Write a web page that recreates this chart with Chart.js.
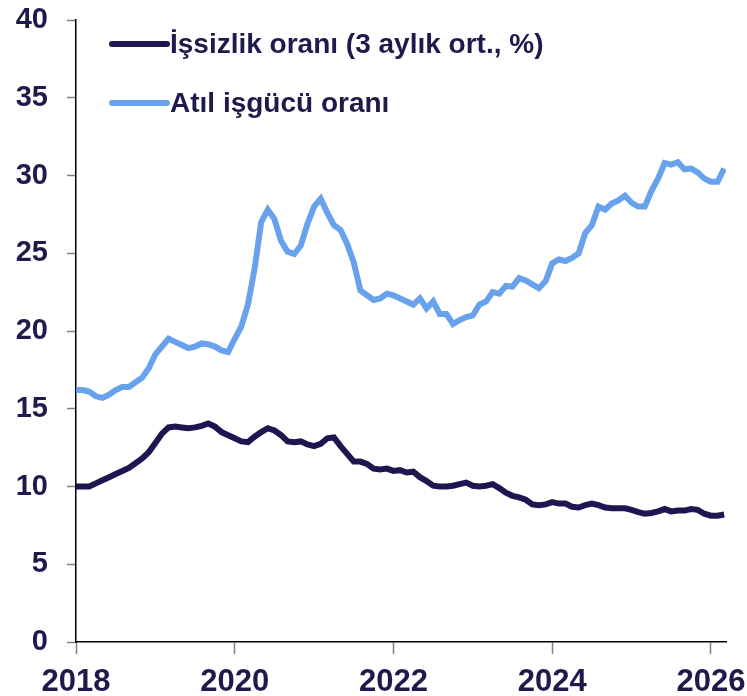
<!DOCTYPE html>
<html>
<head>
<meta charset="utf-8">
<title>İşsizlik ve atıl işgücü oranı</title>
<script src="https://cdn.jsdelivr.net/npm/chart.js@4/dist/chart.umd.min.js"></script>
<style>
    html, body { margin: 0; padding: 0; background: #fff; }
    #wrap { width: 747px; height: 696px; position: relative; }
</style>
</head>
<body>
<div id="wrap"><canvas id="main-chart"></canvas></div>
<script>
'use strict';

// monthly, Jan 2018 .. Mar 2026
var startYear = 2018;
var yearTicks = [2018, 2020, 2022, 2024, 2026];
var seriesNames = ['İşsizlik oranı (3 aylık ort., %)', 'Atıl işgücü oranı'];

var unemployment = [
    10.0, 10.0, 10.0, 10.2, 10.4, 10.6, 10.8, 11.0, 11.2, 11.5, 11.8, 12.2,
    12.8, 13.4, 13.8, 13.85, 13.8, 13.75, 13.8, 13.9, 14.05, 13.85, 13.5, 13.3,
    13.1, 12.9, 12.85, 13.2, 13.5, 13.75, 13.6, 13.3, 12.9, 12.85, 12.9, 12.7,
    12.6, 12.75, 13.1, 13.15, 12.6, 12.1, 11.6, 11.6, 11.45, 11.15, 11.1, 11.15,
    11.0, 11.05, 10.9, 10.95, 10.6, 10.35, 10.05, 10.0, 10.0, 10.05, 10.15, 10.25,
    10.05, 10.0, 10.05, 10.15, 9.9, 9.6, 9.4, 9.3, 9.15, 8.85, 8.8, 8.85,
    9.0, 8.9, 8.9, 8.7, 8.65, 8.8, 8.9, 8.8, 8.65, 8.6, 8.6, 8.6,
    8.5, 8.35, 8.25, 8.3, 8.4, 8.55, 8.4, 8.45, 8.45, 8.55, 8.5, 8.25,
    8.12, 8.12, 8.2
];

var underutilization = [
    16.2, 16.2, 16.1, 15.8, 15.7, 15.9, 16.2, 16.4, 16.4, 16.7, 17.0, 17.6,
    18.5, 19.0, 19.5, 19.3, 19.1, 18.9, 19.0, 19.2, 19.15, 19.0, 18.75, 18.65,
    19.5, 20.3, 21.7, 24.0, 27.0, 27.8, 27.2, 25.8, 25.1, 24.95, 25.5, 26.9,
    28.0, 28.5, 27.6, 26.8, 26.5, 25.6, 24.4, 22.6, 22.3, 22.0, 22.1, 22.4,
    22.3, 22.1, 21.9, 21.7, 22.1, 21.45, 21.9, 21.1, 21.1, 20.45, 20.7, 20.9,
    21.0, 21.7, 21.9, 22.5, 22.4, 22.9, 22.85, 23.4, 23.25, 23.0, 22.75, 23.2,
    24.35, 24.6, 24.5, 24.7, 25.0, 26.3, 26.8, 28.0, 27.8, 28.2, 28.4, 28.7,
    28.25, 28.0, 28.0, 29.0, 29.8, 30.8, 30.7, 30.85, 30.4, 30.45, 30.2, 29.8,
    29.6, 29.6, 30.45
];

var textColor = '#1e1a4c';
var darkLine = '#1e1650';
var blueLine = '#68a2ec';
var fontFamily = '"Liberation Sans", Arial, sans-serif';

function toPoints(values) {
    return values.map(function(v, i) {
        return { x: startYear + i / 12, y: v };
    });
}

// legend drawn by hand: short line + label, top-left inside the plot
var lineLegend = {
    id: 'lineLegend',
    afterDatasetsDraw: function(chart) {
        var ctx = chart.ctx;
        var area = chart.chartArea;
        var x0 = area.left + 36;
        var y0 = area.top + 24;
        ctx.save();
        chart.data.datasets.forEach(function(ds, i) {
            var y = y0 + i * 59;
            ctx.beginPath();
            ctx.strokeStyle = ds.borderColor;
            ctx.lineWidth = 6;
            ctx.lineCap = 'round';
            ctx.moveTo(x0, y);
            ctx.lineTo(x0 + 55, y);
            ctx.stroke();
            ctx.fillStyle = textColor;
            ctx.font = 'bold 28px ' + fontFamily;
            ctx.textBaseline = 'middle';
            ctx.textAlign = 'left';
            ctx.fillText(ds.label, x0 + 58, y + 1);
        });
        ctx.restore();
    }
};

var chart = new Chart(document.getElementById('main-chart'), {
    type: 'line',
    data: {
        datasets: [
            {
                label: seriesNames[0],
                data: toPoints(unemployment),
                borderColor: darkLine,
                borderWidth: 6,
                pointRadius: 0,
                tension: 0,
                fill: false
            },
            {
                label: seriesNames[1],
                data: toPoints(underutilization),
                borderColor: blueLine,
                borderWidth: 6,
                pointRadius: 0,
                tension: 0,
                fill: false
            }
        ]
    },
    options: {
        responsive: true,
        maintainAspectRatio: false,
        animation: false,
        layout: { padding: { top: 20, right: 21, left: 0, bottom: 0 } },
        plugins: {
            legend: { display: false },
            tooltip: { enabled: false }
        },
        scales: {
            x: {
                type: 'linear',
                min: 2018,
                max: 2026.19,
                afterFit: function(scale) {
                    scale.height = 54;
                    scale.paddingLeft = 0;
                    scale.paddingRight = 0;
                },
                afterBuildTicks: function(scale) {
                    scale.ticks = yearTicks.map(function(y) { return { value: y }; });
                },
                ticks: {
                    autoSkip: false,
                    maxRotation: 0,
                    padding: 10,
                    color: textColor,
                    font: { family: fontFamily, size: 31, weight: 'bold' },
                    callback: function(v) { return String(v); }
                },
                grid: {
                    drawOnChartArea: false,
                    drawTicks: true,
                    tickLength: 12,
                    tickColor: '#808080',
                    tickWidth: 1.5
                },
                border: { color: '#000', width: 1.5 }
            },
            y: {
                min: 0,
                max: 40,
                afterFit: function(scale) {
                    scale.width = 76;
                    scale.paddingTop = 0;
                    scale.paddingBottom = 0;
                },
                ticks: {
                    stepSize: 5,
                    padding: 19,
                    color: textColor,
                    font: { family: fontFamily, size: 29, weight: 'bold' }
                },
                grid: {
                    drawOnChartArea: false,
                    drawTicks: true,
                    tickLength: 9,
                    tickColor: '#808080',
                    tickWidth: 1.5
                },
                border: { color: '#000', width: 1.5 }
            }
        }
    },
    plugins: [lineLegend]
});
</script>
</body>
</html>
